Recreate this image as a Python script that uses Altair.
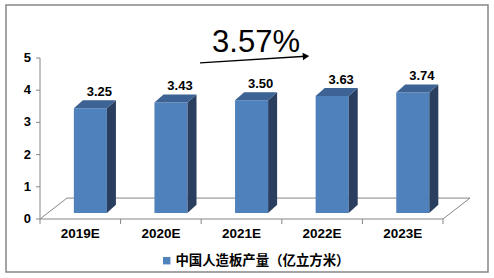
import altair as alt
import pandas as pd

# ---- data ----
categories = ["2019E", "2020E", "2021E", "2022E", "2023E"]
values = [3.25, 3.43, 3.50, 3.63, 3.74]
series_name = "中国人造板产量（亿立方米）"
growth_label = "3.57%"
y_ticks = [0, 1, 2, 3, 4, 5]

# ---- 3D geometry (in axis units) ----
BAR_L, BAR_R = 0.42, 0.83     # bar front face within a category band
LIFT = 0.19                   # bar base above floor front edge
DX, DY = 0.112, 0.25          # bar depth
FDX, FDY = 0.335, 0.65        # floor depth

FRONT = "#4F81BD"
SIDE = "#2A3F5F"
TOP = "#3C6393"
GRAY = "#868686"
FONT = "Liberation Sans"

W, H = 403, 161
n = len(categories)
ymax = max(y_ticks)

front_rows, side_rows, top_rows, label_rows = [], [], [], []
for i, (c, v) in enumerate(zip(categories, values)):
    t = LIFT + v
    front_rows.append(dict(cat=c, series=series_name, x=i + BAR_L, x2=i + BAR_R, y=LIFT, y2=t))
    side_rows += [dict(cat=c, x=i + BAR_R, lo=LIFT, hi=t),
                  dict(cat=c, x=i + BAR_R + DX, lo=LIFT + DY, hi=t + DY)]
    top_rows += [dict(cat=c, x=i + BAR_L, lo=t, hi=t),
                 dict(cat=c, x=i + BAR_L + DX, lo=t, hi=t + DY),
                 dict(cat=c, x=i + BAR_R, lo=t, hi=t + DY),
                 dict(cat=c, x=i + BAR_R + DX, lo=t + DY, hi=t + DY)]
    label_rows.append(dict(x=i + (BAR_L + BAR_R) / 2 + DX, y=t + DY, text=f"{v:.2f}"))

floor_df = pd.DataFrame([
    dict(x=0, x2=FDX, y=0, y2=FDY),
    dict(x=n, x2=n + FDX, y=0, y2=FDY),
    dict(x=FDX, x2=n + FDX, y=FDY, y2=FDY),
])
axis_lines_df = pd.DataFrame([
    dict(x=0, x2=n, y=0, y2=0),
    dict(x=0, x2=0, y=0, y2=ymax),
])
ytick_df = pd.DataFrame(dict(v=y_ticks, text=[str(v) for v in y_ticks]))
xtick_df = pd.DataFrame(dict(x=list(range(n + 1))))
xlab_df = pd.DataFrame(dict(x=[i + 0.5 for i in range(n)], text=categories))

xs = alt.Scale(domain=[0, n], nice=False)
ys = alt.Scale(domain=[0, ymax], nice=False)


def X(f):
    return alt.X(f, scale=xs, axis=None)


def Y(f, **kw):
    return alt.Y(f, scale=ys, axis=None, **kw)


floor = alt.Chart(floor_df).mark_rule(color=GRAY, strokeWidth=1).encode(
    x=X("x:Q"), x2="x2:Q", y=Y("y:Q"), y2="y2:Q")

axis_lines = alt.Chart(axis_lines_df).mark_rule(color=GRAY, strokeWidth=1).encode(
    x=X("x:Q"), x2="x2:Q", y=Y("y:Q"), y2="y2:Q")

yticks = alt.Chart(ytick_df).mark_rule(color=GRAY, strokeWidth=1).encode(
    y=Y("v:Q"), x=alt.value(-4), x2=alt.value(0))
ylabels = alt.Chart(ytick_df).mark_text(
    font=FONT, fontWeight="bold", fontSize=13, color="#000000", align="right", baseline="middle"
).encode(y=Y("v:Q"), x=alt.value(-9), text="text:N")

xticks = alt.Chart(xtick_df).mark_rule(color=GRAY, strokeWidth=1).encode(
    x=X("x:Q"), y=alt.value(H), y2=alt.value(H + 5))
xlabels = alt.Chart(xlab_df).mark_text(
    font=FONT, fontWeight="bold", fontSize=13.5, color="#000000", align="center", baseline="middle"
).encode(x=X("x:Q"), y=alt.value(H + 15), text="text:N")

front = alt.Chart(pd.DataFrame(front_rows)).mark_rect().encode(
    x=X("x:Q"), x2="x2:Q", y=Y("y:Q"), y2="y2:Q",
    color=alt.Color("series:N", scale=alt.Scale(range=[FRONT]), legend=alt.Legend(
        title=None, orient="none", legendX=120, legendY=196, symbolType="square",
        symbolSize=55, symbolStrokeWidth=0, labelFont="Noto Sans CJK SC", labelFontWeight="bold",
        labelFontSize=13.4, labelColor="#000000", labelOffset=2, labelLimit=400)),
)

side = alt.Chart(pd.DataFrame(side_rows)).mark_area(color=SIDE, orient="vertical").encode(
    x=X("x:Q"), y=Y("lo:Q", stack=False), y2="hi:Q", detail="cat:N")

top = alt.Chart(pd.DataFrame(top_rows)).mark_area(color=TOP, orient="vertical").encode(
    x=X("x:Q"), y=Y("lo:Q", stack=False), y2="hi:Q", detail="cat:N")

labels = alt.Chart(pd.DataFrame(label_rows)).mark_text(
    font=FONT, fontWeight="bold", fontSize=13, color="#000000", baseline="alphabetic", dy=-4,
).encode(x=X("x:Q"), y=Y("y:Q"), text="text:N")

title = alt.Chart(pd.DataFrame([dict(x=2.68, y=5.2, text=growth_label)])).mark_text(
    font=FONT, fontSize=31, color="#000000", baseline="alphabetic",
).encode(x=X("x:Q"), y=Y("y:Q"), text="text:N")

arrow_df = pd.DataFrame([dict(x=1.985, y=4.85, x2=3.30, y2=5.055)])
arrow_line = alt.Chart(arrow_df).mark_rule(color="#000000", strokeWidth=1.3).encode(
    x=X("x:Q"), x2="x2:Q", y=Y("y:Q"), y2="y2:Q")
arrow_head = alt.Chart(arrow_df).mark_point(
    shape="triangle-right", filled=True, color="#000000", size=55, angle=356.5, opacity=1,
).encode(x=X("x2:Q"), y=Y("y2:Q"))

border = alt.Chart(pd.DataFrame([dict(k=1)])).mark_rect(
    fill=None, stroke=GRAY, strokeWidth=1.5,
).encode(x=alt.value(-34), x2=alt.value(448), y=alt.value(-53), y2=alt.value(214))

chart = alt.layer(
    floor, axis_lines, yticks, ylabels, xticks, xlabels,
    front, side, top, labels, title, arrow_line, arrow_head, border
).properties(
    width=W, height=H,
    padding={"left": 40, "top": 58, "right": 51, "bottom": 59},
    autosize=alt.AutoSizeParams(type="none"),
).configure(background="#FFFFFF", view=alt.ViewConfig(stroke=None))

chart.save("out.html", embed_options={"renderer": "svg", "actions": False})
